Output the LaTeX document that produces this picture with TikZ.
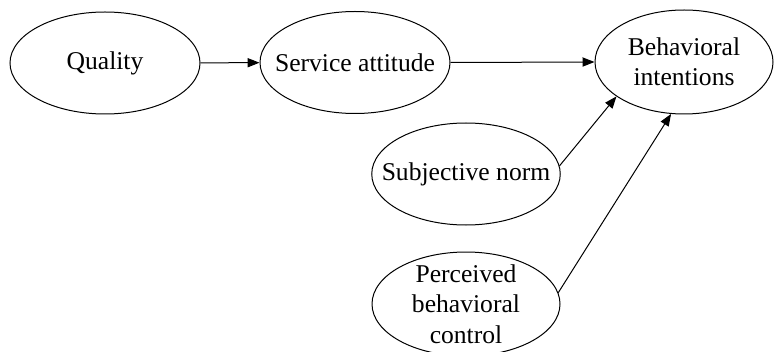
\documentclass[tikz,border=0pt]{standalone}
\usepackage{xcolor}
\usepackage{fontspec}
\setmainfont{Liberation Serif}
\usetikzlibrary{shapes.geometric,arrows.meta}

\begin{document}
\begin{tikzpicture}[x=0.5pt,y=-0.5pt,
	factor/.style={draw,ellipse,inner sep=0pt,align=center,line width=0.5pt,
		font=\fontsize{12.8}{15.2}\selectfont},
	link/.style={-{Triangle[length=6pt,width=4.6pt]},line width=0.5pt}]

			\useasboundingbox (0,0) rectangle (774,352);

			\def \rw {95pt};
			\def \rh {51pt};

			\node (qual) at (105,63) [factor,minimum width=\rw,minimum height=\rh] {Quality};
			\node (serv) at (355,62.5) [factor,inner xsep=-6.4pt,minimum width=\rw,minimum height=\rh] {Service attitude};
			\node (behav) at (684,62) [factor,minimum width=89pt,minimum height=52pt] {Behavioral\\intentions};
			\node (subj) at (466,174) [factor,inner xsep=-8.8pt,minimum width=94pt,minimum height=\rh] {Subjective norm};
			\node (perc) at (466,304) [factor,inner ysep=-3pt,minimum width=94pt,minimum height=52pt] {Perceived\\behavioral\\control};

			\draw [link] (qual) -- (serv);
			\draw [link] (serv.east) -- (behav.west);
			\draw [link] (subj.5) -- (behav.207);
			\draw [link] (perc.7) -- (behav.256);
			\end{tikzpicture}
\end{document}
